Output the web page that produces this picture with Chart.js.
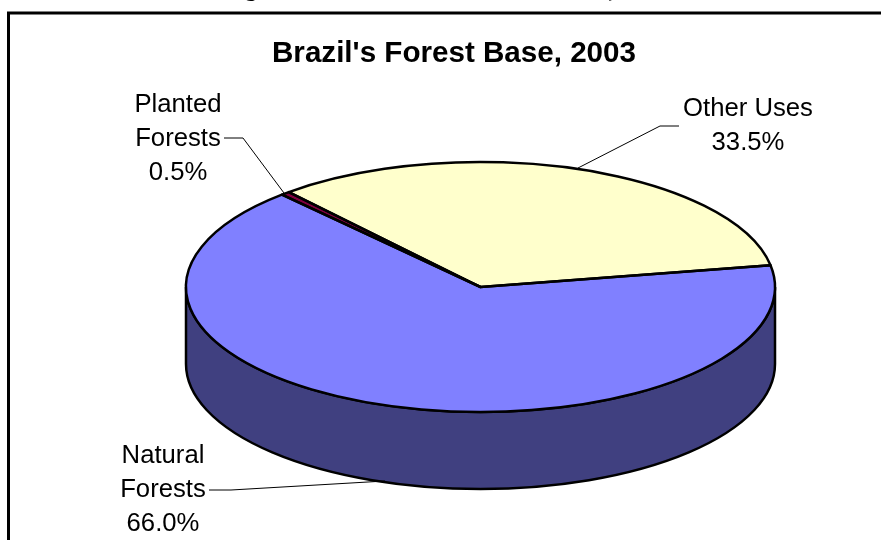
<!DOCTYPE html>
<html>
<head>
<meta charset="utf-8">
<style>
  html, body { margin: 0; padding: 0; background: #fff; }
  canvas { display: block; }
</style>
<script src="https://cdn.jsdelivr.net/npm/chart.js@4"></script>
</head>
<body>
<canvas id="myChart" width="881" height="540"></canvas>
<script>
const titleText = "Brazil's Forest Base, 2003";
const categories = ["Other Uses", "Natural Forests", "Planted Forests"];
const shares = [33.5, 66.0, 0.5];

const topColors = ["#FFFFCC", "#8080FF", "#800040"];
const sideColors = ["#808066", "#404080", "#400020"];

// where each label sits, and the leader line running to the pie
const labelLayout = [
  { lines: ["Other Uses"], x: 748, y: 109, leader: [[679, 126], [660, 126], [578, 168]] },
  { lines: ["Natural", "Forests"], x: 163, y: 456, leader: [[209, 490], [231, 490], [385, 481]] },
  { lines: ["Planted", "Forests"], x: 178, y: 105, leader: [[224, 138], [243, 138], [284, 193]] },
];

const wallDepth = 77;

const fakePie3d = {
  id: "fakePie3d",
  beforeDraw(chart) {
    const { ctx } = chart;
    ctx.save();
    ctx.strokeStyle = "#000";
    ctx.lineWidth = 3;
    ctx.strokeRect(8.5, 13, 900, 600);
    // the caption above the frame is cut off by the page edge
    ctx.fillStyle = "#000";
    ctx.font = "bold 24px 'Liberation Serif'";
    ctx.textAlign = "center";
    ctx.textBaseline = "alphabetic";
    ctx.fillText("g", 251, -4);
    ctx.fillText(",", 612, -3);
    ctx.restore();
  },
  beforeDatasetsDraw(chart) {
    const { ctx, chartArea } = chart;
    const arcs = chart.getDatasetMeta(0).data;
    const cx = (chartArea.left + chartArea.right) / 2;
    const cy = (chartArea.top + chartArea.bottom) / 2;
    const rx = chartArea.width / 2;
    const ry = chartArea.height / 2;

    // side wall, only the part of each slice facing front
    ctx.save();
    arcs.forEach((arc, i) => {
      const from = Math.max(arc.startAngle, 0);
      const to = Math.min(arc.endAngle, Math.PI);
      if (to <= from) return;
      ctx.beginPath();
      ctx.ellipse(cx, cy, rx, ry, 0, from, to);
      ctx.ellipse(cx, cy + wallDepth, rx, ry, 0, to, from, true);
      ctx.closePath();
      ctx.fillStyle = sideColors[i];
      ctx.fill();
      ctx.lineWidth = 2.5;
      ctx.strokeStyle = "#000";
      ctx.stroke();
    });
    ctx.restore();

    // squash the library's round pie into an ellipse
    ctx.save();
    ctx.translate(cx, cy);
    ctx.scale(rx / ry, 1);
    ctx.translate(-cx, -cy);
  },
  afterDatasetsDraw(chart) {
    const { ctx, chartArea } = chart;
    ctx.restore();

    const arcs = chart.getDatasetMeta(0).data;
    const cx = (chartArea.left + chartArea.right) / 2;
    const cy = (chartArea.top + chartArea.bottom) / 2;
    const rx = chartArea.width / 2;
    const ry = chartArea.height / 2;

    ctx.save();
    ctx.strokeStyle = "#000";
    ctx.lineWidth = 2.5;
    ctx.lineJoin = "round";
    arcs.forEach((arc) => {
      ctx.beginPath();
      ctx.moveTo(cx, cy);
      ctx.ellipse(cx, cy, rx, ry, 0, arc.startAngle, arc.endAngle);
      ctx.closePath();
      ctx.stroke();
    });

    ctx.lineWidth = 1;
    labelLayout.forEach((label) => {
      ctx.beginPath();
      label.leader.forEach(([x, y], j) => (j ? ctx.lineTo(x, y) : ctx.moveTo(x, y)));
      ctx.stroke();
    });

    ctx.fillStyle = "#000";
    ctx.textAlign = "center";
    ctx.textBaseline = "middle";
    ctx.font = "bold 29.6px 'Liberation Sans'";
    ctx.fillText(titleText, 454, 54);
    ctx.font = "25.7px 'Liberation Sans'";
    labelLayout.forEach((label, i) => {
      const lines = [...label.lines, shares[i].toFixed(1) + "%"];
      lines.forEach((line, j) => ctx.fillText(line, label.x, label.y + j * 34));
    });
    ctx.restore();
  },
};

new Chart(document.getElementById("myChart").getContext("2d"), {
  type: "pie",
  data: {
    labels: categories,
    datasets: [
      {
        data: shares,
        backgroundColor: topColors,
        borderWidth: 0,
      },
    ],
  },
  options: {
    responsive: false,
    animation: false,
    rotation: -40.6,
    layout: { padding: { left: 186, right: 106, top: 162, bottom: 128 } },
    plugins: {
      legend: { display: false },
      tooltip: { enabled: false },
      title: { display: false },
    },
  },
  plugins: [fakePie3d],
});
</script>
</body>
</html>
